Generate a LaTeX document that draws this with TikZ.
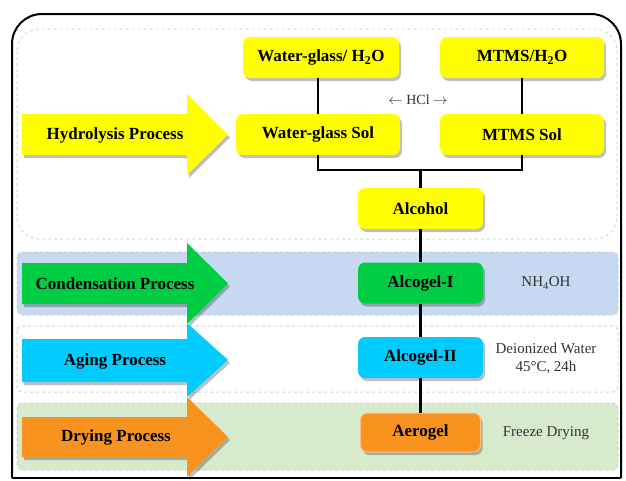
\documentclass[tikz,border=0pt]{standalone}
\usepackage{fontspec}
\setmainfont{Liberation Serif}
\usetikzlibrary{shadows}
\definecolor{cyel}{HTML}{FFFF00}
\definecolor{cgrn}{HTML}{00CC44}
\definecolor{ccya}{HTML}{00CCFF}
\definecolor{cora}{HTML}{F7931E}
\definecolor{bblue}{HTML}{C6D9F1}
\definecolor{bgreen}{HTML}{D8EACC}
\definecolor{dgreen}{HTML}{C8E6B0}
\definecolor{dgrey}{HTML}{D0D0D0}
\definecolor{txt}{HTML}{333333}
\begin{document}
\begin{tikzpicture}[x=1pt,y=-1pt,
  shd/.style={drop shadow={shadow xshift=2pt,shadow yshift=-3pt,opacity=0.25,fill=black}},
  box/.style={shd,rounded corners=7pt,minimum width=#1,minimum height=41pt,inner sep=0pt,
    font=\bfseries\fontsize{17}{19}\selectfont},
  box/.default=125pt,
  parr/.style={shd},
  plabel/.style={font=\bfseries\fontsize{17}{19}\selectfont},
  side/.style={font=\fontsize{15}{18}\selectfont,text=txt,align=center},
  conn/.style={line width=2.8pt,black},
  band/.style={rounded corners=5pt,draw=dgrey,dashed,line width=1pt}]
\useasboundingbox (0,0) rectangle (626,480);
% outer frame
\draw[line width=2pt,rounded corners=30pt] (12,478) -- (12,14) -- (621,14) -- (621,478);
\draw[line width=2pt] (12,478) -- (621,478);
% panels
\filldraw[fill=white,draw=dgreen,dashed,line width=1pt,rounded corners=22pt] (17,29) rectangle (617,239);
\filldraw[band,fill=bblue] (17,252) rectangle (618,315);
\filldraw[band,fill=white] (17,326) rectangle (618,392);
\filldraw[band,fill=bgreen] (17,403) rectangle (618,470);
% process arrows
\path[parr,fill=cyel] (22,114) -- (187,114) -- (187,94) -- (228,134.5) -- (187,175) -- (187,155) -- (22,155) -- cycle;
\path[parr,fill=cgrn] (22,263) -- (187,263) -- (187,243) -- (228,283.5) -- (187,324) -- (187,304) -- (22,304) -- cycle;
\path[parr,fill=ccya] (22,339) -- (187,339) -- (187,323) -- (228,360) -- (187,397) -- (187,382) -- (22,382) -- cycle;
\path[parr,fill=cora] (22,417) -- (187,417) -- (187,397) -- (228,437) -- (187,477) -- (187,457) -- (22,457) -- cycle;
\node[plabel] (hyd) at (115,135) {Hydrolysis Process};
\node[plabel] (con) at (115,284) {Condensation Process};
\node[plabel] (age) at (115,361) {Aging Process};
\node[plabel] (dry) at (116,437) {Drying Process};
% nodes
\node[box=156pt,fill=cyel] (wg) at (321,57.5) {Water-glass/ H\textsubscript{2}O};
\node[box=164pt,fill=cyel] (mt) at (522,57.5) {MTMS/H\textsubscript{2}O};
\node[box=164pt,fill=cyel] (wgs) at (318,134.5) {Water-glass Sol};
\node[box=164pt,fill=cyel] (ms) at (522,134.5) {MTMS Sol};
\node[box,fill=cyel] (alc) at (420.5,208.5) {Alcohol};
\node[box,fill=cgrn] (ag1) at (420.5,283) {Alcogel-I};
\node[box,fill=ccya] (ag2) at (420.5,357.5) {Alcogel-II};
\node[box=120pt,minimum height=39pt,fill=cora,draw=orange!50,line width=1pt] (aer) at (420.5,432.5) {Aerogel};
% connectors
\coordinate (j) at (420.5,170);
\draw[conn] (wgs.north) -- (wgs.north |- wg.south);
\draw[conn] (mt.south) -- (ms.north);
\draw[conn] (wgs.south) |- (j) -| (ms.south);
\draw[conn] (j) -- (alc.north);
\draw[conn] (alc.south) -- (ag1.north);
\draw[conn] (ag1.south) -- (ag2.north);
\draw[conn] (ag2.south) -- (aer.north);
% side labels
\node[font=\fontsize{14}{16}\selectfont,text=txt] (hcl) at (418,100) {$\leftarrow$ HCl $\rightarrow$};
\node[side] (nh) at (546,283) {NH\textsubscript{4}OH};
\node[side] (dw) at (546,358) {Deionized Water\\45°C, 24h};
\node[side] (fd) at (546,433) {Freeze Drying};
\end{tikzpicture}
\end{document}
